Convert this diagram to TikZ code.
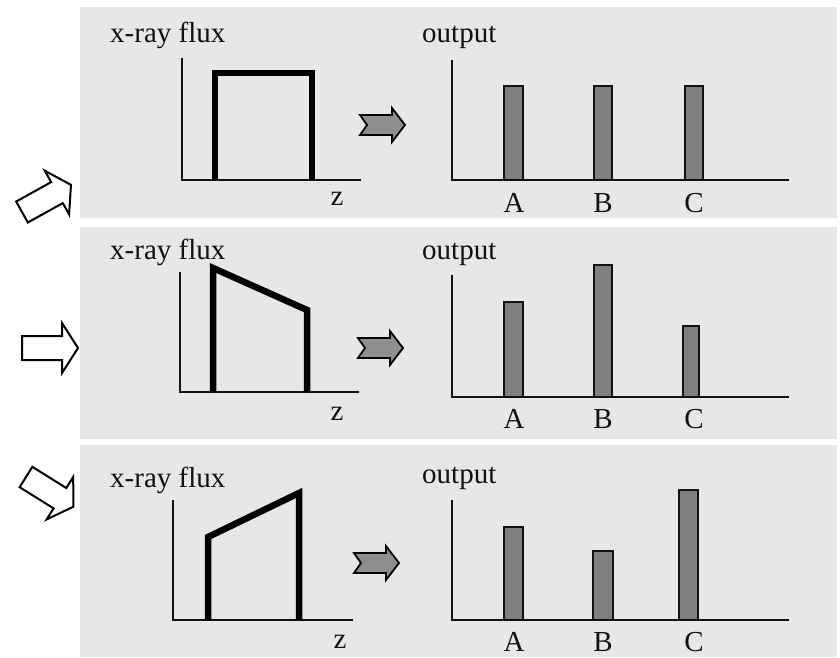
\documentclass[tikz,border=0pt]{standalone}
\usepackage{fontspec}
\setmainfont{Liberation Serif}
\definecolor{panelgray}{HTML}{E7E7E7}
\definecolor{bargray}{HTML}{7F7F7F}
\definecolor{arrowgray}{HTML}{8E8E8E}
\definecolor{edgecol}{HTML}{111111}

% hollow arrow: tail point, angle
\newcommand{\hollowarrow}[2]{%
  \draw[harr, shift={#1}, rotate=#2]
    (0,-12) -- (40,-12) -- (40,-25) -- (56,0) -- (40,25) -- (40,12) -- (0,12) -- cycle;
}
% grey notched arrow: tail point
\newcommand{\grayarrow}[1]{%
  \draw[garr, shift={#1}]
    (0,-10) -- (32,-10) -- (32,-17) -- (45,0) -- (32,17) -- (32,10) -- (0,10) -- (7,0) -- cycle;
}

\begin{document}
\begin{tikzpicture}[
  x=1pt, y=1pt,
  font=\fontsize{29}{32}\selectfont,
  panel/.style={fill=panelgray},
  axis/.style={draw=edgecol, line width=1.6pt},
  pulse/.style={draw=black, line width=6.5pt, line join=miter},
  bar/.style={draw=edgecol, line width=1.8pt, fill=bargray},
  lbl/.style={anchor=base west, inner sep=0pt, text=edgecol},
  tick/.style={anchor=base, inner sep=0pt, text=edgecol},
  harr/.style={draw=black, line width=2pt, fill=white, line join=miter},
  garr/.style={draw=black, line width=1.8pt, fill=arrowgray, line join=miter},
]
\useasboundingbox (0,0) rectangle (840,-657);

% ─── panel 1: flat flux ─────────────────────────────────────────────────────
\fill[panel] (80,-7) rectangle (837,-218);
\node[lbl] (flux1) at (110,-42) {x-ray flux};
\draw[axis] (182,-58) -- (182,-180) -- (361,-180);
\draw[pulse] (215,-180) -- (215,-73) -- (312,-73) -- (312,-180);
\node[tick] (z1) at (337,-205) {z};
\grayarrow{(360,-125)}
\node[lbl] (out1) at (422,-42) {output};
\draw[axis] (452,-60) -- (452,-180) -- (789,-180);
\draw[bar] (504,-180) rectangle (523,-86);
\draw[bar] (594,-180) rectangle (612,-86);
\draw[bar] (685,-180) rectangle (703,-86);
\node[tick] (a1) at (514,-212) {A};
\node[tick] (b1) at (603,-212) {B};
\node[tick] (c1) at (694,-212) {C};

% ─── panel 2: falling flux ──────────────────────────────────────────────────
\fill[panel] (80,-227) rectangle (837,-439);
\node[lbl] (flux2) at (110,-259) {x-ray flux};
\draw[axis] (180,-272) -- (180,-392) -- (359,-392);
\draw[pulse] (213,-392) -- (213,-268) -- (307,-310) -- (307,-392);
\node[tick] (z2) at (337,-420) {z};
\grayarrow{(358,-348)}
\node[lbl] (out2) at (422,-259) {output};
\draw[axis] (452,-275) -- (452,-397) -- (789,-397);
\draw[bar] (504,-397) rectangle (523,-302);
\draw[bar] (594,-397) rectangle (612,-265);
\draw[bar] (683,-397) rectangle (699,-326);
\node[tick] (a2) at (514,-428) {A};
\node[tick] (b2) at (603,-428) {B};
\node[tick] (c2) at (694,-428) {C};

% ─── panel 3: rising flux ───────────────────────────────────────────────────
\fill[panel] (80,-445) rectangle (837,-657);
\node[lbl] (flux3) at (110,-487) {x-ray flux};
\draw[axis] (173,-500) -- (173,-620) -- (353,-620);
\draw[pulse] (208,-620) -- (208,-537) -- (299,-493) -- (299,-620);
\node[tick] (z3) at (340,-648) {z};
\grayarrow{(354,-563)}
\node[lbl] (out3) at (422,-483) {output};
\draw[axis] (452,-500) -- (452,-620) -- (789,-620);
\draw[bar] (504,-620) rectangle (523,-527);
\draw[bar] (593,-620) rectangle (613,-551);
\draw[bar] (679,-620) rectangle (698,-490);
\node[tick] (a3) at (514,-651) {A};
\node[tick] (b3) at (603,-651) {B};
\node[tick] (c3) at (694,-651) {C};

% ─── incoming beams (left) ─────────────────────────────────────────────────
\hollowarrow{(22,-212)}{29}
\hollowarrow{(22,-348)}{0}
\hollowarrow{(26,-477)}{-32}

\end{tikzpicture}
\end{document}
